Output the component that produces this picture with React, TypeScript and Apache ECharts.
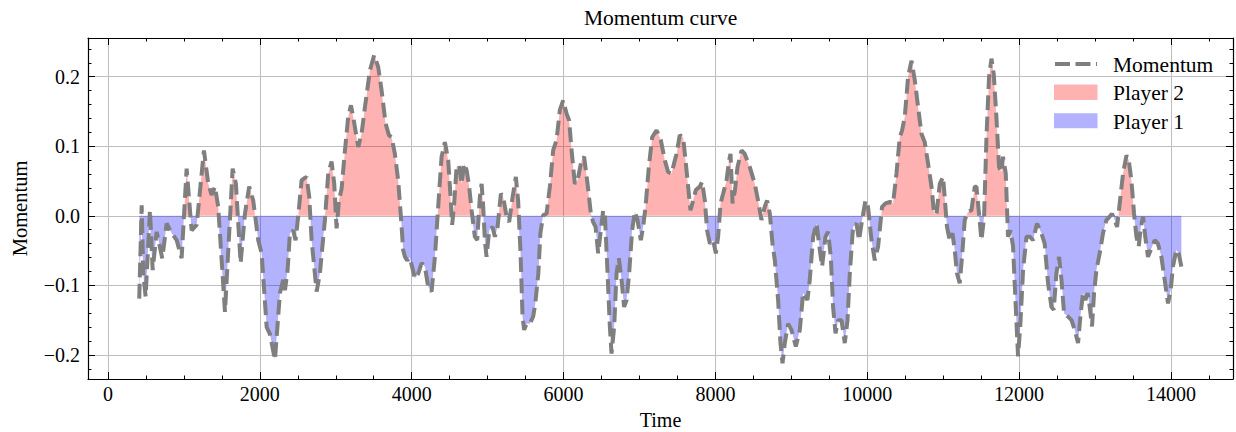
import React, { useEffect, useRef } from 'react';
import * as echarts from 'echarts';

const TIME = [
  412, 444, 465, 496, 553, 589, 641, 715, 773, 839, 905, 970, 1036, 1070, 1102, 1168,
  1264, 1321, 1365, 1409, 1452, 1541, 1642, 1685, 1747, 1804, 1860, 1913, 1979, 2024,
  2090, 2133, 2199, 2265, 2308, 2331, 2366, 2396, 2440, 2471, 2506, 2550, 2585, 2616,
  2651, 2682, 2748, 2791, 2857, 2901, 2945, 2980, 3011, 3042, 3077, 3121, 3164, 3200,
  3230, 3296, 3340, 3384, 3450, 3506, 3559, 3604, 3656, 3700, 3735, 3779, 3822, 3858,
  3888, 3911, 3941, 3976, 4042, 4086, 4131, 4174, 4217, 4262, 4306, 4349, 4394, 4437,
  4481, 4512, 4533, 4560, 4591, 4626, 4657, 4691, 4723, 4757, 4789, 4832, 4863, 4898,
  4921, 4942, 4964, 4986, 5021, 5065, 5096, 5131, 5175, 5205, 5250, 5284, 5329, 5372,
  5402, 5434, 5460, 5481, 5513, 5556, 5600, 5628, 5668, 5695, 5732, 5776, 5820, 5863,
  5908, 5951, 5995, 6040, 6074, 6106, 6149, 6185, 6237, 6271, 6316, 6360, 6390, 6422,
  6456, 6491, 6522, 6544, 6580, 6610, 6632, 6667, 6698, 6728, 6764, 6798, 6830, 6864,
  6903, 6939, 6974, 7018, 7048, 7080, 7123, 7167, 7225, 7281, 7334, 7377, 7422, 7466,
  7488, 7531, 7575, 7611, 7641, 7672, 7707, 7742, 7795, 7825, 7861, 7891, 7927, 7970,
  8006, 8036, 8068, 8102, 8147, 8181, 8199, 8226, 8258, 8291, 8344, 8387, 8453, 8519,
  8562, 8607, 8650, 8681, 8717, 8752, 8783, 8826, 8857, 8884, 8914, 8957, 9002, 9059,
  9112, 9155, 9212, 9243, 9287, 9332, 9375, 9405, 9450, 9484, 9520, 9550, 9582, 9616,
  9661, 9704, 9740, 9770, 9813, 9858, 9892, 9932, 9976, 10010, 10056, 10099, 10143, 10195,
  10240, 10297, 10340, 10385, 10428, 10459, 10494, 10538, 10583, 10626, 10670, 10714, 10757, 10801,
  10846, 10880, 10912, 10955, 10998, 11020, 11050, 11086, 11122, 11152, 11182, 11218, 11248, 11284,
  11327, 11372, 11416, 11438, 11472, 11504, 11539, 11570, 11604, 11636, 11666, 11701, 11736, 11767,
  11788, 11824, 11854, 11886, 11920, 11956, 11986, 12017, 12052, 12097, 12140, 12184, 12236, 12294,
  12337, 12381, 12426, 12456, 12491, 12526, 12558, 12592, 12645, 12690, 12732, 12776, 12811, 12842,
  12873, 12904, 12930, 12960, 12987, 13018, 13061, 13105, 13150, 13193, 13224, 13259, 13290, 13325,
  13369, 13414, 13444, 13479, 13514, 13545, 13575, 13601, 13632, 13662, 13697, 13733, 13786, 13829,
  13874, 13917, 13961, 13996, 14026, 14071, 14102, 14137,
];

const MOMENTUM = [
  -0.119, 0.015, -0.083, -0.116, 0.008, -0.078, -0.023, -0.061, -0.011, -0.025, -0.035, -0.061, 0.068, 0.022, -0.021, -0.013,
  0.094, 0.046, 0.030, 0.042, 0.013, -0.138, 0.068, 0.046, -0.068, 0.003, 0.042, 0.022, -0.035, -0.054,
  -0.16, -0.17, -0.207, -0.111, -0.092, -0.107, -0.078, -0.025, -0.021, -0.035, 0.0, 0.051, 0.054, 0.056,
  0.027, -0.035, -0.109, -0.083, -0.006, 0.061, 0.078, 0.046, -0.018, 0.022, 0.039, 0.094, 0.142, 0.159,
  0.142, 0.099, 0.118, 0.156, 0.209, 0.231, 0.214, 0.180, 0.133, 0.116, 0.113, 0.089, 0.051, -0.001,
  -0.049, -0.059, -0.064, -0.06, -0.09, -0.083, -0.068, -0.073, -0.102, -0.109, -0.059, 0.013, 0.085, 0.106,
  0.08, 0.027, -0.013, 0.018, 0.07, 0.073, 0.046, 0.075, 0.066, 0.042, 0.008, -0.03, -0.035, 0.027,
  0.046, 0.013, -0.035, -0.059, -0.021, -0.016, -0.03, -0.016, 0.032, 0.027, -0.001, -0.009, 0.027, 0.056,
  0.022, -0.054, -0.145, -0.164, -0.155, -0.155, -0.145, -0.126, -0.083, -0.025, 0.001, 0.003, 0.042, 0.094,
  0.109, 0.152, 0.166, 0.147, 0.137, 0.094, 0.046, 0.051, 0.08, 0.085, 0.046, 0.003, -0.009, -0.016,
  -0.054, -0.021, 0.008, 0.003, -0.083, -0.159, -0.198, -0.159, -0.083, -0.061, -0.092, -0.131, -0.121, -0.083,
  -0.021, 0.006, -0.006, -0.035, -0.016, 0.013, 0.07, 0.113, 0.123, 0.109, 0.08, 0.063, 0.061, 0.08,
  0.089, 0.116, 0.113, 0.075, 0.042, 0.008, 0.022, 0.037, 0.042, 0.049, 0.022, -0.021, -0.04, -0.035,
  -0.054, -0.03, 0.018, 0.032, 0.051, 0.08, 0.089, 0.018, 0.037, 0.07, 0.094, 0.089, 0.07, 0.046,
  0.022, -0.006, 0.013, 0.022, 0.003, -0.04, -0.064, -0.121, -0.183, -0.212, -0.183, -0.155, -0.164, -0.188,
  -0.164, -0.111, -0.121, -0.092, -0.03, -0.011, -0.049, -0.073, -0.03, -0.023, -0.059, -0.131, -0.169, -0.15,
  -0.15, -0.183, -0.15, -0.083, -0.016, -0.011, -0.035, -0.006, 0.022, 0.013, -0.035, -0.064, -0.044, 0.013,
  0.018, 0.02, 0.018, 0.061, 0.113, 0.123, 0.142, 0.2, 0.223, 0.195, 0.156, 0.118, 0.106, 0.075,
  0.042, 0.003, 0.003, 0.046, 0.056, 0.027, -0.016, -0.035, -0.025, -0.049, -0.083, -0.097, -0.059, -0.006,
  0.006, 0.008, 0.042, 0.042, 0.003, -0.035, -0.001, 0.113, 0.2, 0.226, 0.204, 0.142, 0.07, 0.063,
  0.085, 0.061, -0.03, -0.021, -0.044, -0.131, -0.202, -0.155, -0.078, -0.03, -0.03, -0.035, -0.011, -0.025,
  -0.04, -0.097, -0.131, -0.135, -0.083, -0.059, -0.092, -0.14, -0.145, -0.15, -0.164, -0.183, -0.14, -0.111,
  -0.121, -0.111, -0.131, -0.159, -0.111, -0.078, -0.054, -0.025, -0.006, -0.001, 0.003, -0.006, -0.016, 0.018,
  0.061, 0.087, 0.08, 0.051, 0.003, -0.03, -0.044, -0.018, -0.001, -0.03, -0.059, -0.049, -0.035, -0.04,
  -0.059, -0.092, -0.126, -0.107, -0.073, -0.049, -0.054, -0.073,
];

const X_MAJOR = [0, 2000, 4000, 6000, 8000, 10000, 12000, 14000];
const X_MINOR = [500, 1000, 1500, 2500, 3000, 3500, 4500, 5000, 5500, 6500, 7000, 7500, 8500, 9000, 9500, 10500, 11000, 11500, 12500, 13000, 13500, 14500];
const Y_MAJOR = [-0.2, -0.1, 0, 0.1, 0.2];
const Y_MINOR = [-0.22, -0.18, -0.16, -0.14, -0.12, -0.08, -0.06, -0.04, -0.02, 0.02, 0.04, 0.06, 0.08, 0.12, 0.14, 0.16, 0.18, 0.22, 0.24];
const X_RANGE = [-263, 14817];
const Y_RANGE = [-0.2346, 0.2557];

const TITLE = 'Momentum curve';
const X_NAME = 'Time';
const Y_NAME = 'Momentum';
const LEGEND = ['Momentum', 'Player 2', 'Player 1'];

const FONT = '"Liberation Serif", "Times New Roman", serif';
const LINE_COLOR = '#7f7f7f';
const POS_COLOR = 'rgba(255,0,0,0.3)';
const NEG_COLOR = 'rgba(0,0,255,0.3)';

function splitFill(xs: number[], ys: number[]) {
  const pos: number[][] = [];
  const neg: number[][] = [];
  for (let i = 0; i < xs.length; i++) {
    const x = xs[i];
    const y = ys[i];
    pos.push([x, Math.max(y, 0)]);
    neg.push([x, Math.min(y, 0)]);
    if (i < xs.length - 1) {
      const y2 = ys[i + 1];
      if (y * y2 < 0) {
        const xc = x + ((xs[i + 1] - x) * -y) / (y2 - y);
        pos.push([xc, 0]);
        neg.push([xc, 0]);
      }
    }
  }
  return { pos, neg };
}

function fmtY(v: number) {
  const a = Math.abs(v).toFixed(1);
  return v < -1e-9 ? '\u2212' + a : a;
}

export default function App() {
  const ref = useRef<HTMLDivElement>(null);
  useEffect(() => {
    if (!ref.current) return;
    const chart = echarts.init(ref.current, undefined, { renderer: 'svg' });
    const { pos, neg } = splitFill(TIME, MOMENTUM);
    const line = TIME.map((t, i) => [t, MOMENTUM[i]]);

    const textBase = { fontFamily: FONT, fontSize: 20, color: '#000' };
    const spine = { show: true, onZero: false, lineStyle: { color: '#000', width: 1.2 } };
    const noSpine = { show: false, onZero: false };
    const tickStyle = { color: '#000', width: 1 };

    const xAxisMaker = (position: string, major: boolean, main: boolean) => ({
      type: 'value',
      position,
      min: X_RANGE[0],
      max: X_RANGE[1],
      axisLine: major ? spine : noSpine,
      axisTick: {
        show: true,
        inside: true,
        length: major ? 7 : 3.5,
        customValues: major ? X_MAJOR : X_MINOR,
        lineStyle: tickStyle,
      },
      axisLabel: main
        ? { show: true, customValues: X_MAJOR, margin: 5, ...textBase, formatter: (v: number) => String(v) }
        : { show: false },
      splitLine: main ? { show: true, lineStyle: { color: '#bdbdbd', width: 1 } } : { show: false },
      minorTick: { show: false },
      ...(main
        ? { name: X_NAME, nameLocation: 'middle', nameGap: 31, nameTextStyle: { ...textBase } }
        : {}),
    });

    const yAxisMaker = (position: string, major: boolean, main: boolean) => ({
      type: 'value',
      position,
      min: Y_RANGE[0],
      max: Y_RANGE[1],
      axisLine: major ? spine : noSpine,
      axisTick: {
        show: true,
        inside: true,
        length: major ? 7 : 3.5,
        customValues: major ? Y_MAJOR : Y_MINOR,
        lineStyle: tickStyle,
      },
      axisLabel: main
        ? { show: true, customValues: Y_MAJOR, margin: 8, ...textBase, formatter: fmtY }
        : { show: false },
      splitLine: main ? { show: true, lineStyle: { color: '#bdbdbd', width: 1 } } : { show: false },
      minorTick: { show: false },
      ...(main
        ? { name: Y_NAME, nameLocation: 'middle', nameGap: 58, nameRotate: 90, nameTextStyle: { ...textBase, fontSize: 20.5 } }
        : {}),
    });

    chart.setOption({
      animation: false,
      backgroundColor: '#fff',
      title: {
        text: TITLE,
        left: 660.6,
        textAlign: 'center',
        top: 7,
        padding: 0,
        textStyle: { ...textBase, fontSize: 21.5, fontWeight: 'normal' },
      },
      grid: { left: 88, top: 38, width: 1145, height: 341, containLabel: false, outerBoundsMode: 'none' },
      xAxis: [
        xAxisMaker('bottom', true, true),
        xAxisMaker('bottom', false, false),
        xAxisMaker('top', true, false),
        xAxisMaker('top', false, false),
      ],
      yAxis: [
        yAxisMaker('left', true, true),
        yAxisMaker('left', false, false),
        yAxisMaker('right', true, false),
        yAxisMaker('right', false, false),
      ],
      series: [
        {
          name: LEGEND[1],
          type: 'line',
          xAxisIndex: 0,
          yAxisIndex: 0,
          data: pos,
          symbol: 'none',
          silent: true,
          lineStyle: { width: 0 },
          itemStyle: { color: POS_COLOR },
          areaStyle: { color: POS_COLOR, opacity: 1, origin: 0 },
          z: 1,
        },
        {
          name: LEGEND[2],
          type: 'line',
          xAxisIndex: 0,
          yAxisIndex: 0,
          data: neg,
          symbol: 'none',
          silent: true,
          lineStyle: { width: 0 },
          itemStyle: { color: NEG_COLOR },
          areaStyle: { color: NEG_COLOR, opacity: 1, origin: 0 },
          z: 1,
        },
        {
          name: LEGEND[0],
          type: 'line',
          xAxisIndex: 0,
          yAxisIndex: 0,
          data: line,
          symbol: 'none',
          silent: true,
          lineStyle: { color: LINE_COLOR, width: 4, type: [14.8, 6.4] },
          itemStyle: { color: LINE_COLOR },
          z: 3,
        },
      ],
      graphic: [
        {
          type: 'line',
          shape: { x1: 1055, y1: 64, x2: 1097, y2: 64 },
          style: { stroke: LINE_COLOR, lineWidth: 4, lineDash: [15, 5.5] },
          z: 10,
        },
        {
          type: 'text',
          x: 1113,
          y: 65,
          style: { text: LEGEND[0], font: '21.5px ' + FONT, fill: '#000', verticalAlign: 'middle', align: 'left' },
          z: 10,
        },
        {
          type: 'rect',
          shape: { x: 1054, y: 84.5, width: 43.5, height: 15.5 },
          style: { fill: POS_COLOR },
          z: 10,
        },
        {
          type: 'text',
          x: 1113,
          y: 93.3,
          style: { text: LEGEND[1], font: '21.5px ' + FONT, fill: '#000', verticalAlign: 'middle', align: 'left' },
          z: 10,
        },
        {
          type: 'rect',
          shape: { x: 1054, y: 113.3, width: 43.5, height: 15 },
          style: { fill: NEG_COLOR },
          z: 10,
        },
        {
          type: 'text',
          x: 1113,
          y: 121.6,
          style: { text: LEGEND[2], font: '21.5px ' + FONT, fill: '#000', verticalAlign: 'middle', align: 'left' },
          z: 10,
        },
      ],
    });
    return () => chart.dispose();
  }, []);

  return (
    <div
      ref={ref}
      style={{ position: 'fixed', left: 0, top: 0, width: 1236, height: 432, background: '#fff' }}
    />
  );
}
